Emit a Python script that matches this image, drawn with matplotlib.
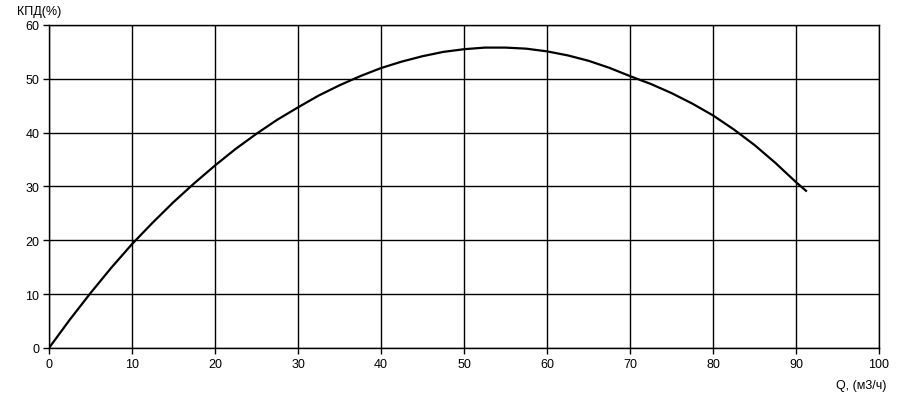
import matplotlib.pyplot as plt
import numpy as np

plt.rcParams["font.family"] = ["Liberation Sans", "DejaVu Sans"]

# flow rate Q (m3/h) and efficiency (%)
q = [0, 2.5, 5, 7.5, 10, 12.5, 15, 17.5, 20, 22.5, 25, 27.5, 30, 32.5, 35, 37.5,
     40, 42.5, 45, 47.5, 50, 52.5, 55, 57.5, 60, 62.5, 65, 67.5, 70, 72.5, 75,
     77.5, 80, 82.5, 85, 87.5, 90, 91.2]
eff = [0, 5.25, 10.2, 14.9, 19.3, 23.3, 27.1, 30.6, 33.9, 37.0, 39.8, 42.4, 44.7,
       46.9, 48.8, 50.5, 52.0, 53.2, 54.2, 55.0, 55.5, 55.8, 55.8, 55.6, 55.1, 54.35,
       53.35, 52.05, 50.5, 49.05, 47.35, 45.4, 43.2, 40.6, 37.7, 34.4, 30.8, 29.2]

x_ticks = np.arange(0, 101, 10)
y_ticks = np.arange(0, 61, 10)

fig = plt.figure(figsize=(8.99, 4.06), dpi=100)
ax = fig.add_axes([0.0545, 0.1404, 0.9233, 0.7956])

ax.plot(q, eff, color="black", linewidth=1.6, solid_joinstyle="round")

ax.set_xlim(0, 100)
ax.set_ylim(0, 60)
ax.set_xticks(x_ticks)
ax.set_yticks(y_ticks)
ax.grid(True, color="black", linewidth=1.0)
ax.set_axisbelow(True)
for s in ax.spines.values():
    s.set_color("black")
    s.set_linewidth(1.0)
ax.tick_params(length=4, width=1, color="black", labelsize=9, pad=3)

fig.text(17 / 899, 1 - 12 / 406, "КПД(%)", fontsize=9, va="center", ha="left")
fig.text(886 / 899, 1 - 386 / 406, "Q, (м3/ч)", fontsize=9, va="center", ha="right")

fig.savefig("out.png", dpi=100)
